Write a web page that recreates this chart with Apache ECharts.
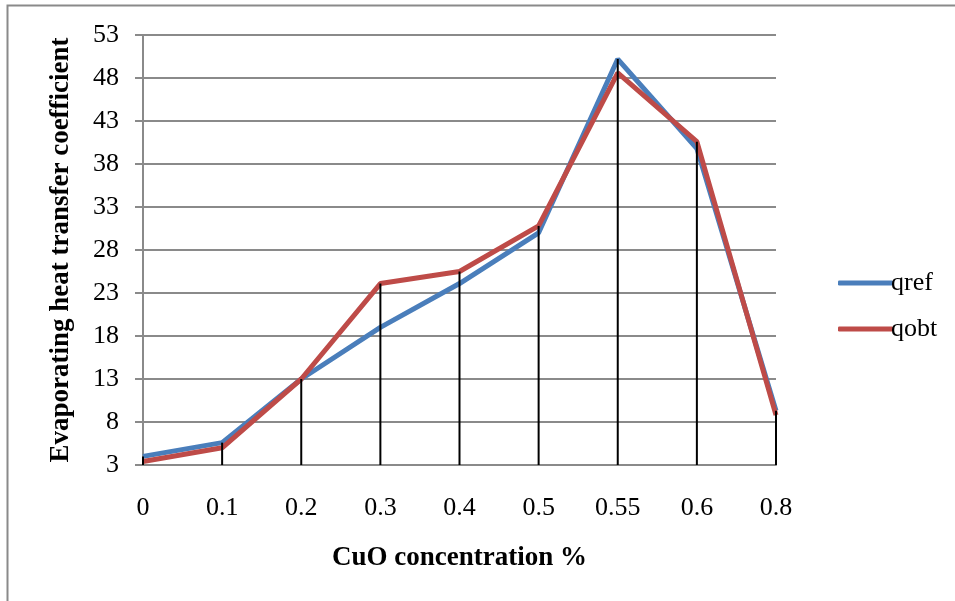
<!DOCTYPE html>
<html><head><meta charset="utf-8">
<script src="https://cdn.jsdelivr.net/npm/echarts@6/dist/echarts.min.js"></script>
<style>html,body{margin:0;padding:0;background:#fff}#c{width:955px;height:601px}</style>
</head><body><div id="c"></div>
<script>
const categories = ['0','0.1','0.2','0.3','0.4','0.5','0.55','0.6','0.8'];
const qref = [4.0, 5.6, 13.0, 19.0, 24.1, 30.0, 50.2, 39.8, 9.3];
const qobt = [3.4, 5.0, 13.0, 24.1, 25.5, 30.8, 48.6, 40.6, 8.8];
const yTicks = {min: 3, max: 53, interval: 5};

const dropTop = categories.map((c, i) => [i, Math.max(qref[i], qobt[i])]);
const font = '"Liberation Serif", "Times New Roman", serif';

const chart = echarts.init(document.getElementById('c'));
chart.setOption({
  animation: false,
  backgroundColor: '#fff',
  graphic: [{type: 'rect', shape: {x: 7.5, y: 5.5, width: 1200, height: 1200},
    style: {fill: 'none', stroke: '#8a8a8a', lineWidth: 2}, z: -1}],
  grid: {left: 143, right: 179, top: 35, bottom: 136},
  legend: {
    orient: 'vertical', left: 833, top: 265, itemGap: 20,
    itemWidth: 55, itemHeight: 5, icon: 'roundRect',
    textStyle: {fontFamily: font, fontSize: 26, color: '#000', padding: [0,0,0,-7]},
    data: ['qref', 'qobt']
  },
  xAxis: {
    type: 'category', data: categories, boundaryGap: false,
    name: 'CuO concentration %', nameLocation: 'middle', nameGap: 80,
    nameTextStyle: {fontFamily: font, fontSize: 27, fontWeight: 'bold', color: '#000'},
    axisLine: {lineStyle: {color: '#8a8a8a', width: 2}},
    axisTick: {show: false},
    axisLabel: {fontFamily: font, fontSize: 26, color: '#000', margin: 30},
    splitLine: {show: false}
  },
  yAxis: {
    type: 'value', min: yTicks.min, max: yTicks.max, interval: yTicks.interval,
    name: 'Evaporating heat transfer coefficient', nameLocation: 'middle', nameGap: 68,
    nameTextStyle: {fontFamily: font, fontSize: 27, fontWeight: 'bold', color: '#000'},
    axisLine: {show: true, lineStyle: {color: '#8a8a8a', width: 2}},
    axisTick: {show: true, inside: false, length: 8, lineStyle: {color: '#8a8a8a', width: 2}},
    axisLabel: {fontFamily: font, fontSize: 26, color: '#000', margin: 24},
    splitLine: {lineStyle: {color: '#8a8a8a', width: 2}}
  },
  series: [
    {name: 'qref', type: 'line', data: qref, symbol: 'none',
     lineStyle: {color: '#4A7EBB', width: 5}, itemStyle: {color: '#4A7EBB'}, z: 2},
    {name: 'qobt', type: 'line', data: qobt, symbol: 'none',
     lineStyle: {color: '#BE4B48', width: 5}, itemStyle: {color: '#BE4B48'}, z: 3},
    {name: 'drop', type: 'custom', data: dropTop, z: 4, silent: true,
     renderItem: function (params, api) {
       const top = api.coord([api.value(0), api.value(1)]);
       const bot = api.coord([api.value(0), yTicks.min]);
       return {type: 'line', shape: {x1: top[0], y1: top[1], x2: bot[0], y2: bot[1]},
               style: {stroke: '#000', lineWidth: 2}};
     }}
  ]
});
</script></body></html>
